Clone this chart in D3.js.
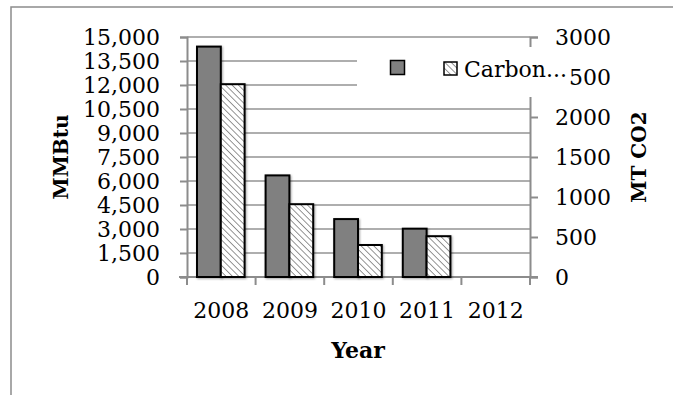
<!DOCTYPE html>
<html>
<head>
<meta charset="utf-8">
<script src="https://cdn.jsdelivr.net/npm/d3@7"></script>
<style>
  html, body { margin: 0; padding: 0; background: #fff; }
  svg { display: block; }
  text { font-family: "DejaVu Serif", "Liberation Serif", serif; fill: #000; }
</style>
</head>
<body>
<svg id="chart" width="673" height="395"></svg>
<script>
// Energy use (MMBtu, left axis) and carbon emissions (MT CO2, right axis) by year
const years = ["2008", "2009", "2010", "2011", "2012"];
const energyMMBtu = [14400, 6350, 3620, 3020, null];
const carbonMTCO2 = [2410, 910, 400, 510, null];
const leftTicks = [0, 1500, 3000, 4500, 6000, 7500, 9000, 10500, 12000, 13500, 15000];
const rightTicks = [0, 500, 1000, 1500, 2000, 2500, 3000];
const legendLabels = ["", "Carbon..."];

const svg = d3.select("#chart");
const W = 673, H = 395;
const plot = { left: 187, right: 530, top: 37, bottom: 277 };
const axisColor = "#8c8c8c";

// outer chart frame
svg.append("rect")
  .attr("x", 11).attr("y", 7)
  .attr("width", W).attr("height", H)
  .attr("fill", "none").attr("stroke", axisColor).attr("stroke-width", 1.5);

const defs = svg.append("defs");
const hatch = defs.append("pattern")
  .attr("id", "hatch").attr("patternUnits", "userSpaceOnUse")
  .attr("width", 4.5).attr("height", 4.5)
  .attr("patternTransform", "rotate(-45)");
hatch.append("rect").attr("width", 4.5).attr("height", 4.5).attr("fill", "#fff");
hatch.append("line").attr("x1", 0).attr("y1", 0).attr("x2", 0).attr("y2", 4.5)
  .attr("stroke", "#8a8a8a").attr("stroke-width", 1.8);

const shadow = defs.append("filter").attr("id", "shadow")
  .attr("x", "-20%").attr("y", "-20%").attr("width", "140%").attr("height", "140%");
shadow.append("feDropShadow").attr("dx", 1).attr("dy", 1)
  .attr("stdDeviation", 1.2).attr("flood-color", "#000").attr("flood-opacity", 0.35);

const x0 = d3.scaleBand().domain(years).range([plot.left, plot.right]).padding(0);
const x1 = d3.scaleBand().domain(["energy", "carbon"])
  .range([10, x0.bandwidth() - 11]).padding(0);
const yL = d3.scaleLinear().domain([0, 15000]).range([plot.bottom, plot.top]);
const yR = d3.scaleLinear().domain([0, 3000]).range([plot.bottom, plot.top]);

// horizontal gridlines at the left-axis ticks
svg.append("g").selectAll("line")
  .data(leftTicks.filter(d => d > 0))
  .join("line")
  .attr("x1", plot.left).attr("x2", plot.right)
  .attr("y1", d => yL(d)).attr("y2", d => yL(d))
  .attr("stroke", "#939393").attr("stroke-width", 1.5);

// left axis
const fmt = d3.format(",");
const gL = svg.append("g").attr("transform", `translate(${plot.left},0)`)
  .call(d3.axisLeft(yL).tickValues(leftTicks).tickFormat(fmt).tickSize(7).tickPadding(20));
// right axis
const gR = svg.append("g").attr("transform", `translate(${plot.right},0)`)
  .call(d3.axisRight(yR).tickValues(rightTicks).tickFormat(d3.format("d")).tickSize(8).tickPadding(17));
// bottom axis with ticks on category boundaries
const gB = svg.append("g").attr("transform", `translate(0,${plot.bottom})`)
  .call(d3.axisBottom(x0).tickSize(0).tickPadding(25));

[gL, gR, gB].forEach(g => {
  g.select(".domain").attr("stroke", axisColor).attr("stroke-width", 2);
  g.selectAll(".tick line").attr("stroke", axisColor).attr("stroke-width", 2);
  g.selectAll(".tick text").style("font-size", "22px")
    .style("font-family", "'DejaVu Serif', serif").attr("fill", "#000");
});
gB.select(".domain").attr("d", `M${plot.left - 8},0H${plot.right + 8}`);
gB.selectAll(".boundary")
  .data(years.map(y => x0(y)).concat([plot.right]))
  .join("line").attr("class", "boundary")
  .attr("x1", d => d).attr("x2", d => d).attr("y1", 0).attr("y2", 8)
  .attr("stroke", axisColor).attr("stroke-width", 2);

// bars
const bars = svg.append("g");
years.forEach((yr, i) => {
  if (energyMMBtu[i] != null) {
    bars.append("rect")
      .attr("x", x0(yr) + x1("energy")).attr("width", x1.bandwidth())
      .attr("y", yL(energyMMBtu[i])).attr("height", yL(0) - yL(energyMMBtu[i]))
      .attr("fill", "#808080").attr("stroke", "#000").attr("stroke-width", 2)
      .attr("filter", "url(#shadow)");
  }
  if (carbonMTCO2[i] != null) {
    bars.append("rect")
      .attr("x", x0(yr) + x1("carbon")).attr("width", x1.bandwidth())
      .attr("y", yR(carbonMTCO2[i])).attr("height", yR(0) - yR(carbonMTCO2[i]))
      .attr("fill", "url(#hatch)").attr("stroke", "#000").attr("stroke-width", 2)
      .attr("filter", "url(#shadow)");
  }
});

// legend box (white background over the top gridlines)
const lg = svg.append("g");
lg.append("rect").attr("x", 357).attr("y", 47).attr("width", 213).attr("height", 50)
  .attr("fill", "#fff");
lg.append("rect").attr("x", 390.5).attr("y", 60.5).attr("width", 14).attr("height", 14)
  .attr("fill", "#808080").attr("stroke", "#000").attr("stroke-width", 1.5);
lg.append("text").attr("x", 410).attr("y", 75).style("font-size", "22px").text(legendLabels[0]);
lg.append("rect").attr("x", 444).attr("y", 62).attr("width", 13).attr("height", 13)
  .attr("fill", "url(#hatch)").attr("stroke", "#000").attr("stroke-width", 1.5);
lg.append("text").attr("x", 464).attr("y", 77).style("font-size", "22px")
  .text(legendLabels[1]);

// axis titles
svg.append("text").attr("transform", "translate(68,157) rotate(-90)")
  .attr("text-anchor", "middle").style("font-size", "20px").style("font-weight", "bold")
  .text("MMBtu");
svg.append("text").attr("transform", "translate(646,157) rotate(-90)")
  .attr("text-anchor", "middle").style("font-size", "20px").style("font-weight", "bold")
  .text("MT CO2");
svg.append("text").attr("x", 358).attr("y", 358)
  .attr("text-anchor", "middle").style("font-size", "22px").style("font-weight", "bold")
  .text("Year");
</script>
</body>
</html>
